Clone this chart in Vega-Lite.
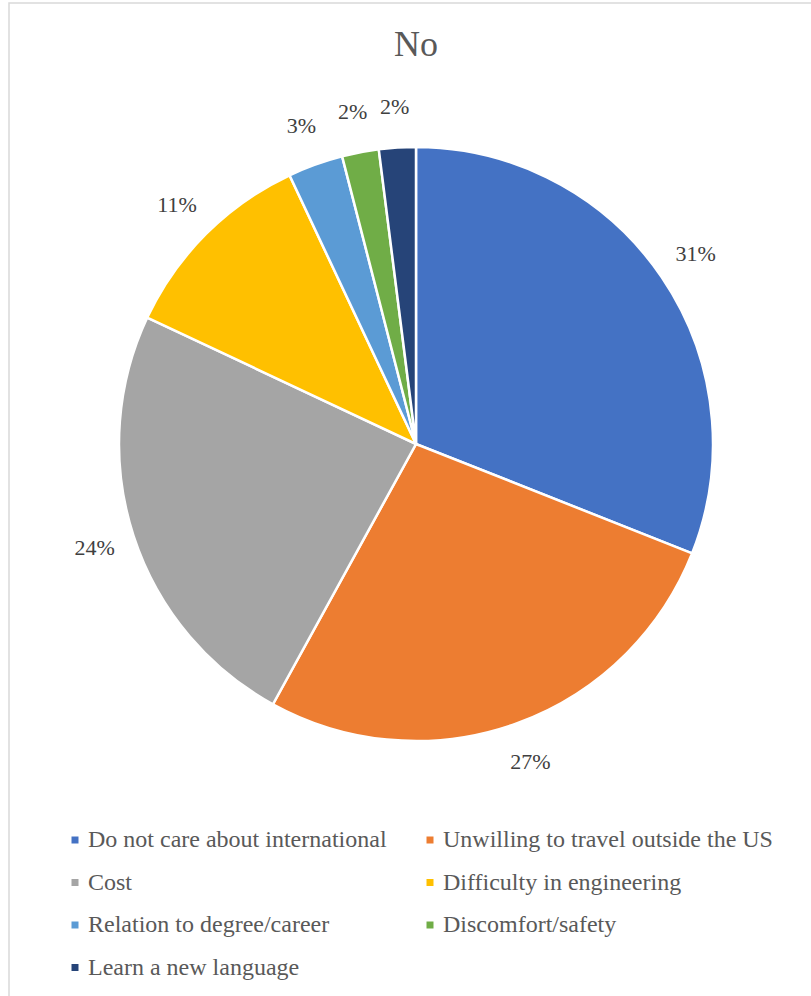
{
  "$schema": "https://vega.github.io/schema/vega-lite/v6.json",
  "width": 814,
  "height": 1100,
  "autosize": "none",
  "padding": {"left": 9, "top": 3, "right": 0, "bottom": 0},
  "background": "white",
  "config": {
    "font": "Liberation Serif",
    "view": {"stroke": "#d9d9d9", "strokeWidth": 1.5}
  },
  "title": {
    "text": "No",
    "font": "Liberation Serif",
    "fontSize": 36,
    "fontWeight": "normal",
    "color": "#595959",
    "orient": "top",
    "anchor": "middle",
    "offset": -61
  },
  "data": {
    "values": [
      {"reason": "Do not care about international", "value": 0.31, "order": 1},
      {"reason": "Unwilling to travel outside the US", "value": 0.27, "order": 2},
      {"reason": "Cost", "value": 0.24, "order": 3},
      {"reason": "Difficulty in engineering", "value": 0.11, "order": 4},
      {"reason": "Relation to degree/career", "value": 0.03, "order": 5},
      {"reason": "Discomfort/safety", "value": 0.02, "order": 6},
      {"reason": "Learn a new language", "value": 0.02, "order": 7}
    ]
  },
  "encoding": {
    "theta": {"field": "value", "type": "quantitative", "stack": true},
    "order": {"field": "order", "type": "quantitative"},
    "y": {"value": 441}
  },
  "layer": [
    {
      "mark": {"type": "arc", "outerRadius": 297, "stroke": "white", "strokeWidth": 2.5},
      "encoding": {
        "color": {
          "field": "reason",
          "type": "nominal",
          "sort": null,
          "scale": {
            "domain": [
              "Do not care about international",
              "Unwilling to travel outside the US",
              "Cost",
              "Difficulty in engineering",
              "Relation to degree/career",
              "Discomfort/safety",
              "Learn a new language"
            ],
            "range": ["#4472C4", "#ED7D31", "#A5A5A5", "#FFC000", "#5B9BD5", "#70AD47", "#264478"]
          },
          "legend": {
            "title": null,
            "orient": "none",
            "legendX": 54,
            "legendY": 825,
            "columns": 2,
            "direction": "horizontal",
            "columnPadding": 31,
            "rowPadding": 18.5,
            "padding": 0,
            "symbolType": "square",
            "symbolSize": 49,
            "symbolStrokeWidth": 0,
            "labelOffset": 1,
            "labelFont": "Liberation Serif",
            "labelFontWeight": "normal",
            "labelFontSize": 24,
            "labelColor": "#595959",
            "labelLimit": 500
          }
        }
      }
    },
    {
      "mark": {"type": "text", "radius": 338, "font": "Liberation Serif", "fontWeight": "normal", "fontSize": 22, "color": "#404040"},
      "encoding": {
        "text": {"field": "value", "type": "quantitative", "format": ".0%"}
      }
    }
  ]
}
